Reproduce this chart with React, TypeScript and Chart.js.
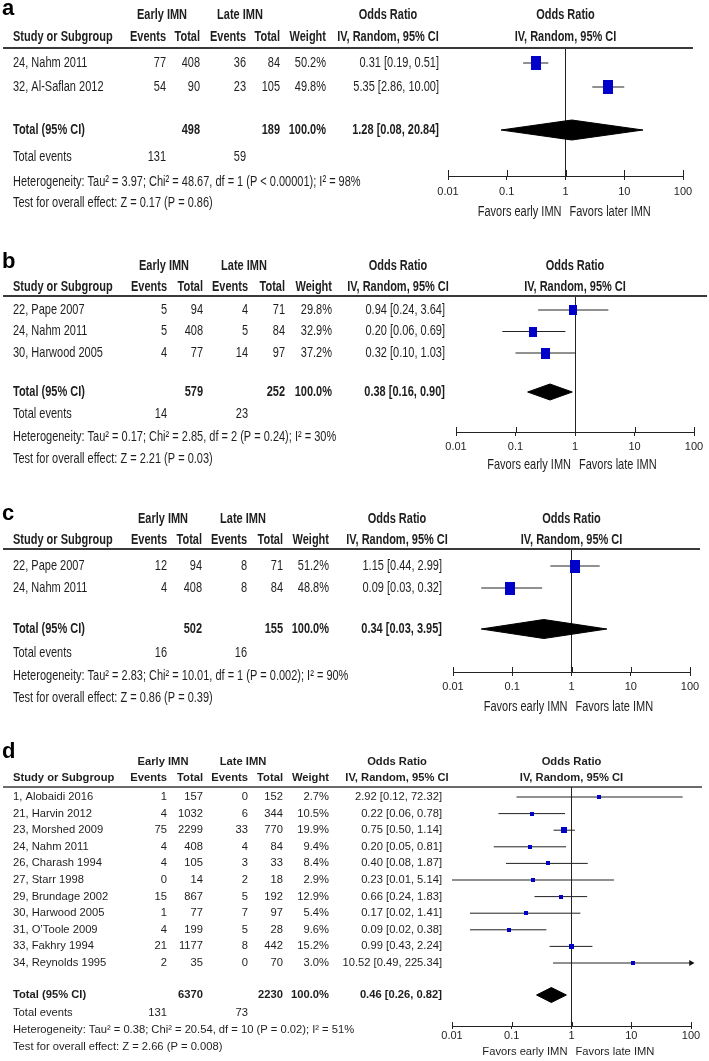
import React, { useEffect, useRef } from "react";
import { Chart, registerables } from "chart.js";
Chart.register(...registerables);

// ---------- shared axis ----------
const tickValues = [0.01, 0.1, 1, 10, 100];
const tickLabels = ["0.01", "0.1", "1", "10", "100"];

// ---------- panel a ----------
const studiesA = ["24, Nahm 2011", "32, Al-Saflan 2012"];
const earlyEventsA = [77, 54];
const earlyTotalA = [408, 90];
const lateEventsA = [36, 23];
const lateTotalA = [84, 105];
const weightA = [50.2, 49.8];
const orA = [0.31, 5.35];
const lowerA = [0.19, 2.86];
const upperA = [0.51, 10.0];
const pooledA = [1.28, 0.08, 20.84];
const totalsA = [498, 189];
const totalEventsA = [131, 59];
const hetA = "Heterogeneity: Tau² = 3.97; Chi² = 48.67, df = 1 (P < 0.00001); I² = 98%";
const testA = "Test for overall effect: Z = 0.17 (P = 0.86)";
const favorsA = ["Favors early IMN", "Favors later IMN"];

// ---------- panel b ----------
const studiesB = ["22, Pape 2007", "24, Nahm 2011", "30, Harwood 2005"];
const earlyEventsB = [5, 5, 4];
const earlyTotalB = [94, 408, 77];
const lateEventsB = [4, 5, 14];
const lateTotalB = [71, 84, 97];
const weightB = [29.8, 32.9, 37.2];
const orB = [0.94, 0.2, 0.32];
const lowerB = [0.24, 0.06, 0.1];
const upperB = [3.64, 0.69, 1.03];
const pooledB = [0.38, 0.16, 0.9];
const totalsB = [579, 252];
const totalEventsB = [14, 23];
const hetB = "Heterogeneity: Tau² = 0.17; Chi² = 2.85, df = 2 (P = 0.24); I² = 30%";
const testB = "Test for overall effect: Z = 2.21 (P = 0.03)";
const favorsB = ["Favors early IMN", "Favors late IMN"];

// ---------- panel c ----------
const studiesC = ["22, Pape 2007", "24, Nahm 2011"];
const earlyEventsC = [12, 4];
const earlyTotalC = [94, 408];
const lateEventsC = [8, 8];
const lateTotalC = [71, 84];
const weightC = [51.2, 48.8];
const orC = [1.15, 0.09];
const lowerC = [0.44, 0.03];
const upperC = [2.99, 0.32];
const pooledC = [0.34, 0.03, 3.95];
const totalsC = [502, 155];
const totalEventsC = [16, 16];
const hetC = "Heterogeneity: Tau² = 2.83; Chi² = 10.01, df = 1 (P = 0.002); I² = 90%";
const testC = "Test for overall effect: Z = 0.86 (P = 0.39)";
const favorsC = ["Favors early IMN", "Favors late IMN"];

// ---------- panel d ----------
const studiesD = [
  "1, Alobaidi 2016",
  "21, Harvin 2012",
  "23, Morshed 2009",
  "24, Nahm 2011",
  "26, Charash 1994",
  "27, Starr 1998",
  "29, Brundage 2002",
  "30, Harwood 2005",
  "31, O’Toole 2009",
  "33, Fakhry 1994",
  "34, Reynolds 1995",
];
const earlyEventsD = [1, 4, 75, 4, 4, 0, 15, 1, 4, 21, 2];
const earlyTotalD = [157, 1032, 2299, 408, 105, 14, 867, 77, 199, 1177, 35];
const lateEventsD = [0, 6, 33, 4, 3, 2, 5, 7, 5, 8, 0];
const lateTotalD = [152, 344, 770, 84, 33, 18, 192, 97, 28, 442, 70];
const weightD = [2.7, 10.5, 19.9, 9.4, 8.4, 2.9, 12.9, 5.4, 9.6, 15.2, 3.0];
const orD = [2.92, 0.22, 0.75, 0.2, 0.4, 0.23, 0.66, 0.17, 0.09, 0.99, 10.52];
const lowerD = [0.12, 0.06, 0.5, 0.05, 0.08, 0.01, 0.24, 0.02, 0.02, 0.43, 0.49];
const upperD = [72.32, 0.78, 1.14, 0.81, 1.87, 5.14, 1.83, 1.41, 0.38, 2.24, 225.34];
const pooledD = [0.46, 0.26, 0.82];
const totalsD = [6370, 2230];
const totalEventsD = [131, 73];
const hetD = "Heterogeneity: Tau² = 0.38; Chi² = 20.54, df = 10 (P = 0.02); I² = 51%";
const testD = "Test for overall effect: Z = 2.66 (P = 0.008)";
const favorsD = ["Favors early IMN", "Favors late IMN"];

// ---------- panel tables (built from the arrays) ----------
const dataA = { studies: studiesA, ee: earlyEventsA, et: earlyTotalA, le: lateEventsA, lt: lateTotalA, w: weightA, or: orA, lo: lowerA, hi: upperA, pooled: pooledA, totals: totalsA, tev: totalEventsA, het: hetA, test: testA, favors: favorsA };
const dataB = { studies: studiesB, ee: earlyEventsB, et: earlyTotalB, le: lateEventsB, lt: lateTotalB, w: weightB, or: orB, lo: lowerB, hi: upperB, pooled: pooledB, totals: totalsB, tev: totalEventsB, het: hetB, test: testB, favors: favorsB };
const dataC = { studies: studiesC, ee: earlyEventsC, et: earlyTotalC, le: lateEventsC, lt: lateTotalC, w: weightC, or: orC, lo: lowerC, hi: upperC, pooled: pooledC, totals: totalsC, tev: totalEventsC, het: hetC, test: testC, favors: favorsC };
const dataD = { studies: studiesD, ee: earlyEventsD, et: earlyTotalD, le: lateEventsD, lt: lateTotalD, w: weightD, or: orD, lo: lowerD, hi: upperD, pooled: pooledD, totals: totalsD, tev: totalEventsD, het: hetD, test: testD, favors: favorsD };

// ---------- layout (page pixels) ----------
const layouts = [
  { key: "a", data: dataA, top: 0, H: 228, labelBase: 15, h1: 15, h2: 37, line: 48, lineRight: 693, row0: 63, step: 24, total: 130, events: 157, het: 182, test: 203, cols: [166, 200, 246, 280, 326], earlyC: 162, lateC: 240, orC: 388, orRight: 439, xL: 448, xR: 683, axis: 176, tickPad: 5, favY: 212, sy: 1.4, mk: 1.4, mMin: 3, dh: 10, up: 6, down: 4, lineW: 2, fs: 11 },
  { key: "b", data: dataB, top: 228, H: 250, labelBase: 268, h1: 266, h2: 287, line: 296, lineRight: 707, row0: 310, step: 21.5, total: 392, events: 414, het: 437, test: 459, cols: [167, 203, 248, 285, 332], earlyC: 164, lateC: 244, orC: 398, orRight: 445, xL: 456, xR: 694, axis: 432, tickPad: 4, favY: 465, sy: 1.25, mk: 1.4, mMin: 3, dh: 8, up: 5, down: 4, lineW: 2, fs: 11 },
  { key: "c", data: dataC, top: 478, H: 242, labelBase: 520, h1: 519, h2: 540, line: 549, lineRight: 700, row0: 566, step: 22, total: 629, events: 653, het: 676, test: 698, cols: [167, 202, 247, 283, 329], earlyC: 163, lateC: 243, orC: 397, orRight: 442, xL: 453, xR: 690, axis: 672, tickPad: 4, favY: 707, sy: 1.3, mk: 1.4, mMin: 3, dh: 9.5, up: 5, down: 4, lineW: 2, fs: 11 },
  { key: "d", data: dataD, top: 720, H: 341, labelBase: 758, h1: 762, h2: 778, line: 787, lineRight: 702, row0: 797, step: 16.6, total: 995, events: 1013, het: 1030, test: 1047, cols: [167, 203, 248, 283, 329], earlyC: 163, lateC: 243, orC: 397, orRight: 442, xL: 452, xR: 691, axis: 1026, tickPad: 0, favY: 1052, sy: 1.0, mk: 1.25, mMin: 3.5, dh: 7.5, up: 4, down: 3, lineW: 1.5, fs: 11.2 },
];

const AXIS_BOX = 26;
const FONT = '"Liberation Sans", Arial, Helvetica, sans-serif';
const INK = "#1e1e1e";
const BLUE = "#0000c8";

function fmtCI(e: number, l: number, h: number) {
  return `${e.toFixed(2)} [${l.toFixed(2)}, ${h.toFixed(2)}]`;
}

function makeMarker(w: number, h: number) {
  const c = document.createElement("canvas");
  c.width = Math.max(1, Math.round(w));
  c.height = Math.max(1, Math.round(h));
  const g = c.getContext("2d");
  if (g) {
    g.fillStyle = BLUE;
    g.fillRect(0, 0, c.width, c.height);
  }
  return c;
}

function makeTablePlugin(p: any) {
  return {
    id: "forestTable_" + p.key,
    afterDraw(chart: any) {
      const ctx = chart.ctx;
      const ys = chart.scales.y;
      const xs = chart.scales.x;
      const d = p.data;
      const Y = (pageY: number) => pageY - p.top;
      const rowVal = (pageY: number) => (pageY - p.row0) / p.step;
      const rowPx = (v: number) => ys.getPixelForValue(v);

      const text = (s: string, x: number, y: number, align: string, bold = false) => {
        ctx.save();
        ctx.font = `${bold ? "bold " : ""}${p.fs}px ${FONT}`;
        ctx.fillStyle = INK;
        ctx.textAlign = align;
        ctx.textBaseline = "middle";
        ctx.translate(x, y);
        ctx.scale(1, p.sy);
        ctx.fillText(s, 0, 0);
        ctx.restore();
      };

      // panel letter
      ctx.save();
      ctx.font = `bold 22px ${FONT}`;
      ctx.fillStyle = "#000";
      ctx.textAlign = "left";
      ctx.textBaseline = "alphabetic";
      ctx.fillText(p.key, 2, Y(p.labelBase));
      ctx.restore();

      const [c1, c2, c3, c4, c5] = p.cols;
      const x1 = xs.getPixelForValue(1);

      // header rows
      const h1 = Y(p.h1);
      const h2 = Y(p.h2);
      text("Early IMN", p.earlyC, h1, "center", true);
      text("Late IMN", p.lateC, h1, "center", true);
      text("Odds Ratio", p.orC, h1, "center", true);
      text("Odds Ratio", x1, h1, "center", true);
      text("Study or Subgroup", 13, h2, "left", true);
      text("Events", c1, h2, "right", true);
      text("Total", c2, h2, "right", true);
      text("Events", c3, h2, "right", true);
      text("Total", c4, h2, "right", true);
      text("Weight", c5, h2, "right", true);
      text("IV, Random, 95% CI", p.orC, h2, "center", true);
      text("IV, Random, 95% CI", x1, h2, "center", true);

      // header rule
      ctx.save();
      ctx.strokeStyle = "#3a3a3a";
      ctx.lineWidth = p.lineW;
      ctx.beginPath();
      ctx.moveTo(3, Y(p.line));
      ctx.lineTo(p.lineRight, Y(p.line));
      ctx.stroke();
      ctx.restore();

      // study rows
      d.studies.forEach((s: string, i: number) => {
        const y = rowPx(i);
        text(s, 13, y, "left");
        text(String(d.ee[i]), c1, y, "right");
        text(String(d.et[i]), c2, y, "right");
        text(String(d.le[i]), c3, y, "right");
        text(String(d.lt[i]), c4, y, "right");
        text(`${d.w[i].toFixed(1)}%`, c5, y, "right");
        text(fmtCI(d.or[i], d.lo[i], d.hi[i]), p.orRight, y, "right");
      });

      // total row
      const ty = rowPx(rowVal(p.total));
      const wsum = d.w.reduce((a: number, b: number) => a + b, 0);
      text("Total (95% CI)", 13, ty, "left", true);
      text(String(d.totals[0]), c2, ty, "right", true);
      text(String(d.totals[1]), c4, ty, "right", true);
      text(`${Math.round(wsum).toFixed(1)}%`, c5, ty, "right", true);
      text(fmtCI(d.pooled[0], d.pooled[1], d.pooled[2]), p.orRight, ty, "right", true);

      const ey = rowPx(rowVal(p.events));
      text("Total events", 13, ey, "left");
      text(String(d.tev[0]), c1, ey, "right");
      text(String(d.tev[1]), c3, ey, "right");
      text(d.het, 13, rowPx(rowVal(p.het)), "left");
      text(d.test, 13, rowPx(rowVal(p.test)), "left");

      // upward part of axis ticks
      const ab = chart.chartArea.bottom;
      ctx.save();
      ctx.strokeStyle = "#222";
      ctx.lineWidth = 1;
      xs.ticks.forEach((t: any) => {
        const x = Math.round(xs.getPixelForValue(t.value)) + 0.5;
        ctx.beginPath();
        ctx.moveTo(x, ab - p.up);
        ctx.lineTo(x, ab);
        ctx.stroke();
      });
      ctx.restore();

      // favours labels
      const fy = Y(p.favY);
      text(d.favors[0], x1 - 4, fy, "right");
      text(d.favors[1], x1 + 4, fy, "left");
    },
  };
}

function buildConfig(p: any) {
  const d = p.data;
  const xMin = tickValues[0];
  const xMax = tickValues[tickValues.length - 1];
  const yMin = (p.line - p.row0) / p.step;
  const yMax = (p.axis - p.row0) / p.step;
  const totalRow = (p.total - p.row0) / p.step;
  const dRow = p.dh / p.step;

  const markers = d.w.map((w: number) => {
    const mw = Math.max(p.mMin, p.mk * Math.sqrt(w));
    return makeMarker(mw, mw * p.sy);
  });

  const datasets: any[] = [];
  datasets.push({
    label: "estimates",
    data: d.or.map((v: number, i: number) => ({ x: v, y: i })),
    pointStyle: markers,
    pointRadius: 5,
    showLine: false,
    order: 0,
  });
  d.studies.forEach((s: string, i: number) => {
    datasets.push({
      label: s,
      data: [
        { x: d.lo[i], y: i },
        { x: d.hi[i], y: i },
      ],
      showLine: true,
      borderColor: "#222",
      borderWidth: 1,
      pointRadius: 0,
      order: 3,
    });
    if (d.hi[i] > xMax) {
      datasets.push({
        label: s + " arrow",
        data: [{ x: xMax, y: i }],
        pointStyle: "triangle",
        rotation: 90,
        pointRadius: 3.5,
        backgroundColor: "#111",
        borderColor: "#111",
        borderWidth: 0,
        showLine: false,
        clip: false,
        order: 1,
      });
    }
  });
  const [pe, pl, ph] = d.pooled;
  datasets.push({
    label: "pooled",
    data: [
      { x: pl, y: totalRow },
      { x: pe, y: totalRow - dRow },
      { x: ph, y: totalRow },
      { x: pe, y: totalRow + dRow },
      { x: pl, y: totalRow },
    ],
    showLine: true,
    fill: "shape",
    backgroundColor: "#000",
    borderColor: "#000",
    borderWidth: 1,
    pointRadius: 0,
    tension: 0,
    order: 2,
  });

  return {
    type: "scatter",
    data: { datasets },
    options: {
      animation: false,
      responsive: false,
      maintainAspectRatio: false,
      events: [],
      layout: {
        padding: {
          left: p.xL,
          right: 709 - p.xR,
          top: p.line - p.top,
          bottom: p.top + p.H - p.axis - AXIS_BOX,
        },
      },
      plugins: {
        legend: { display: false },
        tooltip: { enabled: false },
      },
      scales: {
        x: {
          type: "logarithmic",
          position: "bottom",
          min: xMin,
          max: xMax,
          afterBuildTicks: (s: any) => {
            s.ticks = tickValues.map((v) => ({ value: v }));
          },
          afterFit: (s: any) => {
            s.height = AXIS_BOX;
          },
          ticks: {
            autoSkip: false,
            maxRotation: 0,
            padding: p.tickPad,
            color: INK,
            font: { family: FONT, size: 11 },
            callback: (v: number) => {
              const idx = tickValues.findIndex((t) => Math.abs(t - v) < t * 1e-6);
              return idx >= 0 ? tickLabels[idx] : "";
            },
          },
          grid: {
            color: (c: any) => (c.tick && Math.abs(c.tick.value - 1) < 1e-9 ? "#222" : "rgba(0,0,0,0)"),
            lineWidth: 1,
            drawTicks: true,
            tickLength: p.down,
            tickColor: "#222",
            tickWidth: 1,
          },
          border: { display: true, color: "#222", width: 1 },
        },
        y: {
          type: "linear",
          display: false,
          reverse: true,
          min: yMin,
          max: yMax,
        },
      },
    },
    plugins: [makeTablePlugin(p)],
  };
}

function Panel({ p }: { p: any }) {
  const ref = useRef<HTMLCanvasElement | null>(null);
  useEffect(() => {
    if (!ref.current) return;
    const chart = new Chart(ref.current, buildConfig(p) as any);
    return () => chart.destroy();
  }, [p]);
  return (
    <canvas
      ref={ref}
      width={709}
      height={p.H}
      style={{ position: "absolute", left: 0, top: p.top, width: 709, height: p.H, display: "block" }}
    />
  );
}

export default function App() {
  return (
    <div style={{ position: "absolute", left: 0, top: 0, width: 709, height: 1061, background: "#fff" }}>
      {layouts.map((p) => (
        <Panel key={p.key} p={p} />
      ))}
    </div>
  );
}
